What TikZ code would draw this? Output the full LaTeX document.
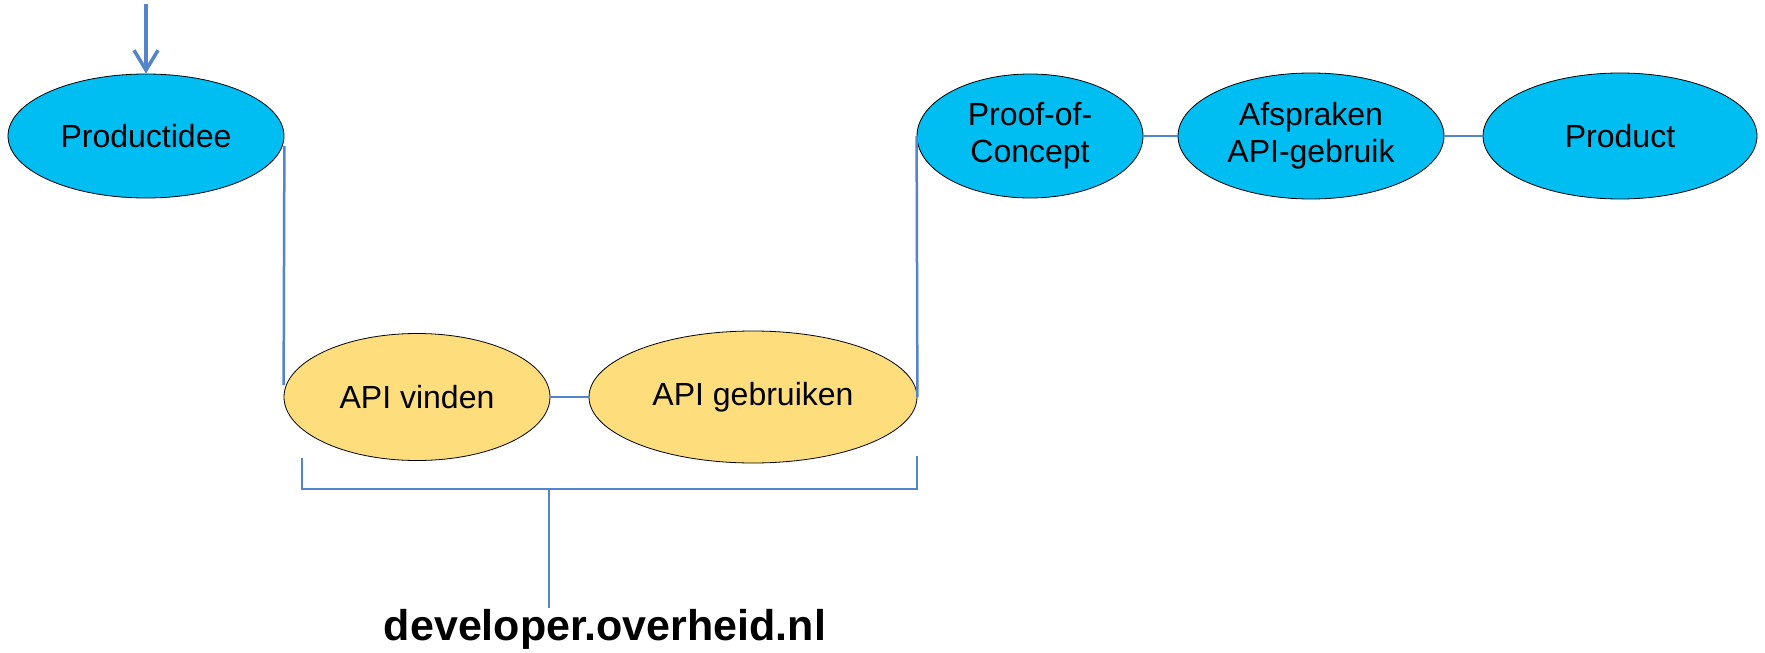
\documentclass[tikz,border=0pt]{standalone}
\usepackage{fontspec}
\setmainfont{Liberation Sans}
\usetikzlibrary{shapes.geometric,arrows.meta}
\definecolor{stageblue}{RGB}{0,189,242}
\definecolor{stageyellow}{RGB}{253,221,124}
\definecolor{linkblue}{RGB}{84,132,206}

\begin{document}
\begin{tikzpicture}[x=1pt,y=-1pt,
      every node/.style={ellipse,draw,inner sep=0pt,line width=0.8pt,
        align=center,font=\fontsize{32}{37}\selectfont},
      stage/.style={fill=stageblue},
      web stage/.style={fill=stageyellow},
      link/.style={draw=linkblue,line width=2.5pt}]
    \useasboundingbox (0,0) rectangle (1765,653);

    \node[stage,minimum width=276pt,minimum height=124pt] (idee) at (146,136) {Productidee};
    \node[web stage,minimum width=266pt,minimum height=127pt] (vinden) at (417,397) {API vinden};
    \node[web stage,minimum width=328pt,minimum height=132pt] (gebruiken) at (753,397) {API gebruiken};
    \node[stage,minimum width=226pt,minimum height=124pt] (poc) at (1030,136) {Proof-of-\\Concept};
    \node[stage,minimum width=266pt,minimum height=126pt] (afspraken) at (1311,136) {Afspraken\\API-gebruik};
    \node[stage,minimum width=274pt,minimum height=126pt] (product) at (1620,136) {Product};

    % instroom
    \coordinate (in) at (146,4);
    \draw[link,line width=3.5pt,-{Straight Barb[length=20pt,width=24pt]}] (in) -- (idee);

    \draw[link] ([yshift=-10pt]idee.east) -- ([yshift=12pt]vinden.west);
    \draw[link] (vinden) -- (gebruiken);
    \draw[link] (gebruiken.east) -- (poc.west);
    \draw[link] (poc) -- (afspraken);
    \draw[link] (afspraken) -- (product);

    % accolade onder de gele stappen
    \node[rectangle,draw=none,anchor=base,font=\bfseries\fontsize{43}{50}\selectfont]
      (site) at (605,640) {developer.overheid.nl};
    \coordinate (brl) at (302,458);
    \coordinate (brr) at (917,456);
    \coordinate (stem) at (549,489);
    \draw[link] (brl) -- (brl |- stem) -- (brr |- stem) -- (brr);
    \draw[link] (stem) -- (stem |- site.north);
  \end{tikzpicture}
\end{document}
